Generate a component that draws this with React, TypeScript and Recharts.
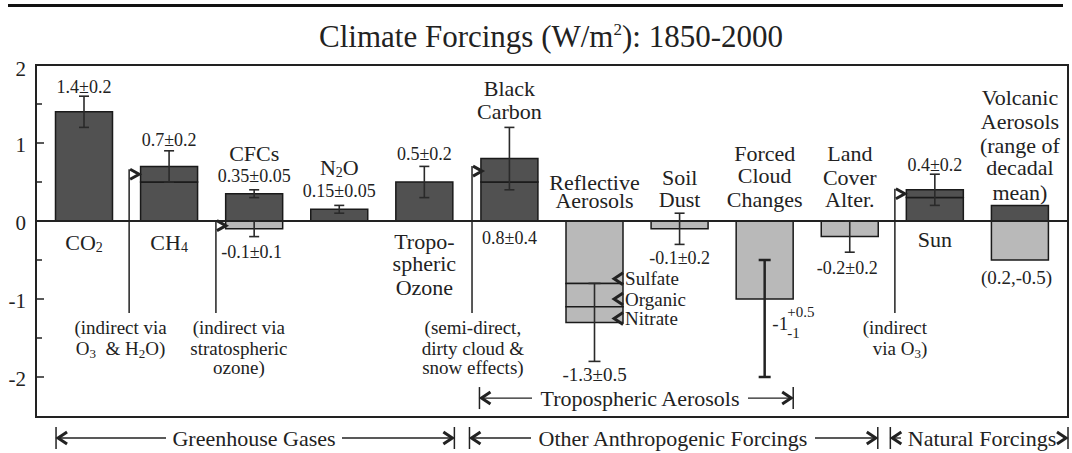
import { BarChart, Bar, XAxis, YAxis, ReferenceLine, ErrorBar } from 'recharts'

const categories = [
  'CO2', 'CH4', 'CFCs', 'N2O', 'Tropospheric Ozone', 'Black Carbon',
  'Reflective Aerosols', 'Soil Dust', 'Forced Cloud Changes', 'Land Cover Alter.', 'Sun', 'Volcanic Aerosols',
]

// warming parts (dark); posTop is the indirect / extra piece split off by a line
const posBase = [1.4, 0.5, 0.35, 0.15, 0.5, 0.5, null, null, null, null, 0.3, 0.2]
const posTop = [null, 0.2, null, null, null, 0.3, null, null, null, null, 0.1, null]
// cooling parts (light); reflective aerosols = sulfate / organic / nitrate
const negBase = [null, null, -0.1, null, null, null, -0.8, -0.1, -1.0, -0.2, null, -0.5]
const negMid = [null, null, null, null, null, null, -0.3, null, null, null, null, null]
const negLow = [null, null, null, null, null, null, -0.2, null, null, null, null, null]

// uncertainties as [below, above]
const posErr = [[0.2, 0.2], null, [0.05, 0.05], [0.05, 0.05], [0.2, 0.2], null, null, null, null, null, null, null]
const topErr = [null, [0.2, 0.2], null, null, null, [0.4, 0.4], null, null, null, null, [0.2, 0.2], null]
const negErr = [null, null, [0.1, 0.1], null, null, null, null, [0.2, 0.2], null, [0.2, 0.2], null, null]
const cloudErr = [null, null, null, null, null, null, null, null, [1.0, 0.5], null, null, null]
const lowErr = [null, null, null, null, null, null, [0.5, 0.5], null, null, null, null, null]

const yTicks = [-2, -1, 0, 1, 2]
const minorTicks = [1.5, 1, 0.5, -0.5, -1, -1.5, -2]

const data = categories.map((name, i) => ({
  name,
  posBase: posBase[i], posTop: posTop[i],
  negBase: negBase[i], negMid: negMid[i], negLow: negLow[i],
  posErr: posErr[i], topErr: topErr[i], negErr: negErr[i], cloudErr: cloudErr[i], lowErr: lowErr[i],
}))

const W = 1072
const H = 453
const SERIF = '"Liberation Serif", "Times New Roman", serif'
const INK = '#222'
const DARK = '#515151'
const LIGHT = '#b9b9b9'

// plot box (mirrors chart margins below)
const L = 36, R = 1068, TOP = 65, BOT = 416
const PAD = 5.5
const band = (R - L - 2 * PAD) / categories.length
const cx = (i: number) => L + PAD + band * (i + 0.5)
const cy = (v: number) => TOP + ((2 - v) / 4.5) * (BOT - TOP)

function T({ i, v, children, size = 22, anchor = 'middle', dx = 0 }: any) {
  return (
    <text x={cx(i) + dx} y={cy(v)} fontSize={size} textAnchor={anchor} dominantBaseline="central"
      fill={INK} fontFamily={SERIF}>{children}</text>
  )
}

const Sub = ({ children, size = 14, d = 5 }: any) => (
  <>
    <tspan dy={d} fontSize={size}>{children}</tspan>
    <tspan dy={-d}>{'\u200b'}</tspan>
  </>
)

function arrowR(x: number, y: number) {
  return <polyline points={`${x + 1},${y - 5} ${x + 10},${y} ${x + 1},${y + 5}`} fill="none" stroke={INK} strokeWidth={3} strokeLinejoin="miter" />
}
function arrowL(x: number, y: number) {
  return <polyline points={`${x + 10},${y - 6} ${x + 1},${y} ${x + 10},${y + 6}`} fill="none" stroke={INK} strokeWidth={3} />
}

// indirect-effect pointers: [category position, arrow value]
const pointers = [[0.53, 0.6], [1.55, -0.06], [4.56, 0.64], [9.53, 0.35]]

function Bracket({ x1, x2, y, label, center, half }: any) {
  return (
    <g>
      <line x1={x1} y1={y - 11} x2={x1} y2={y + 11} stroke={INK} strokeWidth={1.5} />
      <line x1={x2} y1={y - 11} x2={x2} y2={y + 11} stroke={INK} strokeWidth={1.5} />
      {arrowL(x1 + 1, y)}
      <polyline points={`${x2 - 11},${y - 6} ${x2 - 2},${y} ${x2 - 11},${y + 6}`} fill="none" stroke={INK} strokeWidth={3} />
      <line x1={x1 + 2} y1={y} x2={center - half - 6} y2={y} stroke={INK} strokeWidth={1.3} />
      <line x1={center + half + 6} y1={y} x2={x2 - 2} y2={y} stroke={INK} strokeWidth={1.3} />
      <text x={center} y={y} fontSize={22} textAnchor="middle" dominantBaseline="central" fill={INK} fontFamily={SERIF}>{label}</text>
    </g>
  )
}

function Overlay() {
  return (
    <svg width={W} height={H} style={{ position: 'absolute', left: 0, top: 0, pointerEvents: 'none' }}>
      <line x1={8} y1={5.5} x2={1063} y2={5.5} stroke="#111" strokeWidth={3} />
      <text x={551} y={47} fontSize={31} textAnchor="middle" fill={INK} fontFamily={SERIF}>
        Climate Forcings (W/m<tspan dy={-12} fontSize={17}>2</tspan><tspan dy={12}>): 1850-2000</tspan>
      </text>
      <rect x={L} y={TOP} width={R - L} height={BOT - TOP + 1} fill="none" stroke={INK} strokeWidth={2} />
      {minorTicks.map(v => (
        <line key={v} x1={L} x2={L + (Number.isInteger(v) ? 8 : 6)} y1={cy(v)} y2={cy(v)} stroke={INK} strokeWidth={1.5} />
      ))}

      {pointers.map(([i, v]) => (
        <g key={i}>
          <line x1={cx(i)} y1={cy(v) - 5} x2={cx(i)} y2={cy(-1.18)} stroke={INK} strokeWidth={1.5} />
          {arrowR(cx(i), cy(v))}
        </g>
      ))}

      {/* values and names */}
      <T i={0} v={1.72} size={18}>1.4±0.2</T>
      <T i={0} v={-0.27}>CO<Sub>2</Sub></T>
      <T i={1} v={1.04} size={18}>0.7±0.2</T>
      <T i={1} v={-0.27}>CH<Sub>4</Sub></T>
      <T i={2} v={0.86}>CFCs</T>
      <T i={2} v={0.58} size={18}>0.35±0.05</T>
      <T i={1.97} v={-0.4} size={18}>-0.1±0.1</T>
      <T i={3} v={0.69}>N<Sub>2</Sub>O</T>
      <T i={3} v={0.38} size={18}>0.15±0.05</T>
      <T i={4} v={0.86} size={18}>0.5±0.2</T>
      <T i={4} v={-0.26}>Tropo-</T>
      <T i={4} v={-0.55}>spheric</T>
      <T i={4} v={-0.85}>Ozone</T>
      <T i={5} v={1.7}>Black</T>
      <T i={5} v={1.4}>Carbon</T>
      <T i={5} v={-0.22} size={18}>0.8±0.4</T>
      <T i={6} v={0.5}>Reflective</T>
      <T i={6} v={0.26}>Aerosols</T>
      <T i={6} v={-1.97} size={19}>-1.3±0.5</T>
      <T i={7} v={0.56}>Soil</T>
      <T i={7} v={0.27}>Dust</T>
      <T i={7} v={-0.47} size={18}>-0.1±0.2</T>
      <T i={8} v={0.87}>Forced</T>
      <T i={8} v={0.58}>Cloud</T>
      <T i={8} v={0.27}>Changes</T>
      <T i={8.09} v={-1.31} size={19} anchor="start">-1</T>
      <T i={8.09} v={-1.31} size={15} anchor="start" dx={15}><tspan dy={-11}>+0.5</tspan></T>
      <T i={8.09} v={-1.31} size={15} anchor="start" dx={15}><tspan dy={10}>-1</tspan></T>
      <T i={9} v={0.86}>Land</T>
      <T i={9} v={0.56}>Cover</T>
      <T i={9} v={0.27}>Alter.</T>
      <T i={8.97} v={-0.6} size={18}>-0.2±0.2</T>
      <T i={10} v={0.72} size={18}>0.4±0.2</T>
      <T i={10} v={-0.24}>Sun</T>
      <T i={11} v={1.58}>Volcanic</T>
      <T i={11} v={1.27}>Aerosols</T>
      <T i={11} v={0.97}>(range of</T>
      <T i={11} v={0.68}>decadal</T>
      <T i={11} v={0.37}>mean)</T>
      <T i={10.96} v={-0.72} size={19}>(0.2,-0.5)</T>

      {/* aerosol components */}
      {[['Sulfate', -0.74], ['Organic', -1.0], ['Nitrate', -1.25]].map(([s, v]: any) => (
        <g key={s}>
          {arrowL(cx(6.5) - 24, cy(v))}
          <T i={6.5} v={v} size={19} anchor="start" dx={-12}>{s}</T>
        </g>
      ))}

      {/* pointer notes */}
      <T i={0.43} v={-1.37} size={19}>(indirect via</T>
      <T i={0.43} v={-1.63} size={19}>O<Sub size={13} d={5}>3</Sub> {'\u00a0'}&amp; H<Sub size={13} d={5}>2</Sub>O)</T>
      <T i={1.82} v={-1.37} size={19}>(indirect via</T>
      <T i={1.82} v={-1.63} size={19}>stratospheric</T>
      <T i={1.82} v={-1.88} size={19}>ozone)</T>
      <T i={4.57} v={-1.37} size={19}>(semi-direct,</T>
      <T i={4.57} v={-1.63} size={19}>dirty cloud &amp;</T>
      <T i={4.57} v={-1.88} size={19}>snow effects)</T>
      <T i={9.53} v={-1.37} size={19}>(indirect</T>
      <T i={9.59} v={-1.63} size={19}>via O<Sub size={13} d={5}>3</Sub>)</T>

      <Bracket x1={cx(5) - 30} x2={cx(8) + 28.5} y={cy(-2.27)} label="Tropospheric Aerosols" center={640} half={102} />
      <Bracket x1={cx(0) - 28} x2={cx(4) + 30} y={438} label="Greenhouse Gases" center={254} half={82} />
      <Bracket x1={cx(4.53)} x2={cx(9) + 28} y={438} label="Other Anthropogenic Forcings" center={673} half={136} />
      <Bracket x1={cx(9.5) - 2} x2={R} y={438} label="Natural Forcings" center={982} half={75} />
    </svg>
  )
}

const barProps = { stackId: 'a', stroke: '#1a1a1a', strokeWidth: 1.5, barSize: 57, isAnimationActive: false }

export default function App() {
  return (
    <div style={{ position: 'absolute', left: 0, top: 0, width: W, height: H, background: '#fff' }}>
      <BarChart width={W} height={H} data={data} stackOffset="sign"
        margin={{ top: TOP, right: W - R, bottom: H - BOT, left: 0 }}>
        <XAxis dataKey="name" hide padding={{ left: PAD, right: PAD }} />
        <YAxis width={L} type="number" domain={[-2.5, 2]} ticks={yTicks} allowDataOverflow
          axisLine={false} tickLine={false}
          tick={({ x, y, payload }: any) => (
            <text x={x - 2} y={y + (payload.value === 2 ? 4 : 2)} textAnchor="end" dominantBaseline="central"
              fontSize={21} fill={INK} fontFamily={SERIF}>{payload.value}</text>
          )} />
        <ReferenceLine y={0} stroke={INK} strokeWidth={2} />
        <Bar dataKey="posBase" fill={DARK} {...barProps}>
          <ErrorBar dataKey="posErr" direction="y" width={5} stroke="#2a2a2a" strokeWidth={1.6} isAnimationActive={false} />
        </Bar>
        <Bar dataKey="posTop" fill={DARK} {...barProps}>
          <ErrorBar dataKey="topErr" direction="y" width={5} stroke="#2a2a2a" strokeWidth={1.6} isAnimationActive={false} />
        </Bar>
        <Bar dataKey="negBase" fill={LIGHT} {...barProps}>
          <ErrorBar dataKey="negErr" direction="y" width={5} stroke="#2a2a2a" strokeWidth={1.6} isAnimationActive={false} />
          <ErrorBar dataKey="cloudErr" direction="y" width={6} stroke="#222" strokeWidth={2.5} isAnimationActive={false} />
        </Bar>
        <Bar dataKey="negMid" fill={LIGHT} {...barProps} />
        <Bar dataKey="negLow" fill={LIGHT} {...barProps}>
          <ErrorBar dataKey="lowErr" direction="y" width={6} stroke="#2a2a2a" strokeWidth={1.6} isAnimationActive={false} />
        </Bar>
      </BarChart>
      <Overlay />
    </div>
  )
}
